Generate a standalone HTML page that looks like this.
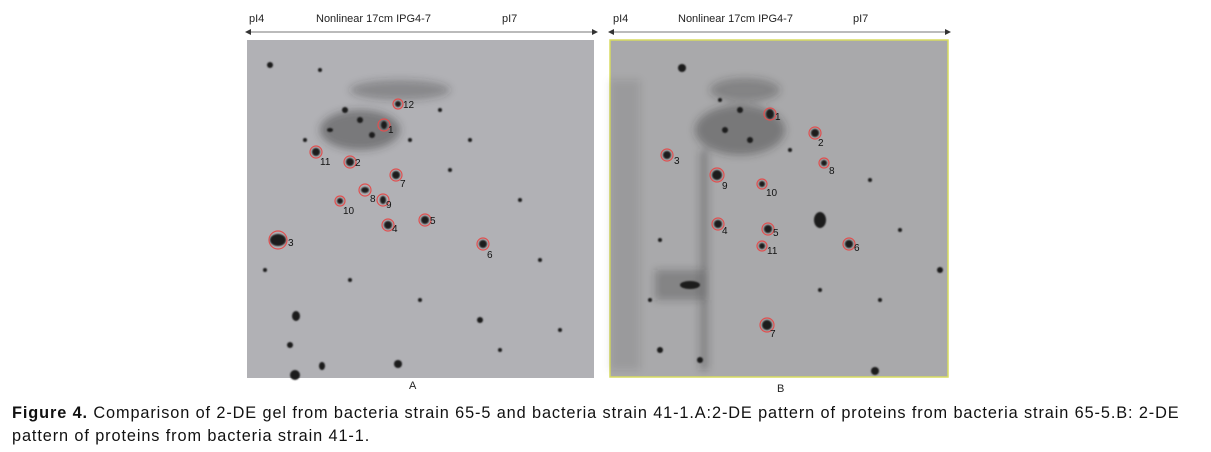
<!DOCTYPE html>
<html><head><meta charset="utf-8"><style>
body{margin:0;width:1211px;height:452px;background:#fff;overflow:hidden;position:relative;font-family:"Liberation Sans",sans-serif}
.t{position:absolute;font-size:11px;color:#222}
.cap{position:absolute;left:12px;top:402px;font-size:16.3px;line-height:23px;letter-spacing:0.9px;color:#111;width:1199px;white-space:nowrap}
</style></head><body>
<svg width="1211" height="400" style="position:absolute;left:0;top:0">
<defs>
<marker id="a" markerWidth="6" markerHeight="6" refX="3" refY="3" orient="auto-start-reverse"><path d="M0,0L6,3L0,6z" fill="#333"/></marker>
<filter id="b"><feGaussianBlur stdDeviation="0.8"/></filter>
<filter id="c"><feGaussianBlur stdDeviation="4"/></filter>
</defs>
<line x1="248" y1="32" x2="595" y2="32" stroke="#777" stroke-width="1" marker-start="url(#a)" marker-end="url(#a)"/>
<line x1="611" y1="32" x2="948" y2="32" stroke="#777" stroke-width="1" marker-start="url(#a)" marker-end="url(#a)"/>
<rect x="247" y="40" width="347" height="338" fill="#b1b1b5"/>
<rect x="610" y="40" width="338" height="337" fill="#a9a9ab" stroke="#d8dc60" stroke-width="1.5"/>
<g filter="url(#c)" fill="#333">
<ellipse cx="360" cy="130" rx="40" ry="20" opacity=".45"/><ellipse cx="400" cy="90" rx="50" ry="10" opacity=".3"/>
<ellipse cx="740" cy="130" rx="45" ry="25" opacity=".4"/><ellipse cx="745" cy="90" rx="35" ry="12" opacity=".3"/>
<rect x="700" y="150" width="8" height="220" opacity=".3"/><rect x="610" y="80" width="30" height="290" opacity=".12"/>
<rect x="655" y="270" width="50" height="30" opacity=".3"/>
</g>
<g filter="url(#b)" fill="#1a1a1a">
<ellipse cx="278" cy="240" rx="8" ry="6"/><ellipse cx="316" cy="152" rx="4" ry="4"/><ellipse cx="350" cy="162" rx="4" ry="4"/>
<ellipse cx="384" cy="125" rx="3" ry="4"/><ellipse cx="398" cy="104" rx="3" ry="3"/><ellipse cx="396" cy="175" rx="4" ry="4"/>
<ellipse cx="365" cy="190" rx="4" ry="3"/><ellipse cx="340" cy="201" rx="3" ry="3"/><ellipse cx="383" cy="200" rx="3" ry="4"/>
<ellipse cx="388" cy="225" rx="4" ry="4"/><ellipse cx="425" cy="220" rx="4" ry="4"/><ellipse cx="483" cy="244" rx="4" ry="4"/>
<ellipse cx="296" cy="316" rx="4" ry="5"/><ellipse cx="295" cy="375" rx="5" ry="5"/><ellipse cx="322" cy="366" rx="3" ry="4"/>
<ellipse cx="398" cy="364" rx="4" ry="4"/><ellipse cx="480" cy="320" rx="3" ry="3"/><ellipse cx="270" cy="65" rx="3" ry="3"/>
<ellipse cx="320" cy="70" rx="2" ry="2"/><ellipse cx="345" cy="110" rx="3" ry="3"/><ellipse cx="360" cy="120" rx="3" ry="3"/>
<ellipse cx="372" cy="135" rx="3" ry="3"/><ellipse cx="410" cy="140" rx="2" ry="2"/><ellipse cx="440" cy="110" rx="2" ry="2"/>
<ellipse cx="330" cy="130" rx="3" ry="2"/><ellipse cx="305" cy="140" rx="2" ry="2"/><ellipse cx="450" cy="170" rx="2" ry="2"/>
<ellipse cx="470" cy="140" rx="2" ry="2"/><ellipse cx="520" cy="200" rx="2" ry="2"/><ellipse cx="540" cy="260" rx="2" ry="2"/>
<ellipse cx="420" cy="300" rx="2" ry="2"/><ellipse cx="350" cy="280" rx="2" ry="2"/><ellipse cx="560" cy="330" rx="2" ry="2"/>
<ellipse cx="500" cy="350" rx="2" ry="2"/><ellipse cx="265" cy="270" rx="2" ry="2"/><ellipse cx="290" cy="345" rx="3" ry="3"/>
<ellipse cx="770" cy="114" rx="4" ry="5"/><ellipse cx="815" cy="133" rx="4" ry="4"/><ellipse cx="667" cy="155" rx="4" ry="4"/>
<ellipse cx="824" cy="163" rx="3" ry="3"/><ellipse cx="717" cy="175" rx="5" ry="5"/><ellipse cx="762" cy="184" rx="3" ry="3"/>
<ellipse cx="718" cy="224" rx="4" ry="4"/><ellipse cx="768" cy="229" rx="4" ry="4"/><ellipse cx="762" cy="246" rx="3" ry="3"/>
<ellipse cx="849" cy="244" rx="4" ry="4"/><ellipse cx="767" cy="325" rx="5" ry="5"/><ellipse cx="820" cy="220" rx="6" ry="8"/>
<ellipse cx="682" cy="68" rx="4" ry="4"/><ellipse cx="875" cy="371" rx="4" ry="4"/><ellipse cx="690" cy="285" rx="10" ry="4"/>
<ellipse cx="740" cy="110" rx="3" ry="3"/><ellipse cx="750" cy="140" rx="3" ry="3"/><ellipse cx="725" cy="130" rx="3" ry="3"/>
<ellipse cx="790" cy="150" rx="2" ry="2"/><ellipse cx="870" cy="180" rx="2" ry="2"/><ellipse cx="900" cy="230" rx="2" ry="2"/>
<ellipse cx="660" cy="240" rx="2" ry="2"/><ellipse cx="650" cy="300" rx="2" ry="2"/><ellipse cx="700" cy="360" rx="3" ry="3"/>
<ellipse cx="820" cy="290" rx="2" ry="2"/><ellipse cx="880" cy="300" rx="2" ry="2"/><ellipse cx="940" cy="270" rx="3" ry="3"/>
<ellipse cx="660" cy="350" rx="3" ry="3"/><ellipse cx="720" cy="100" rx="2" ry="2"/>
</g>
<g fill="none" stroke="#e05050" stroke-width="1.2">
<circle cx="278" cy="240" r="9"/><circle cx="316" cy="152" r="6"/><circle cx="350" cy="162" r="6"/><circle cx="384" cy="125" r="6"/>
<circle cx="398" cy="104" r="5"/><circle cx="396" cy="175" r="6"/><circle cx="365" cy="190" r="6"/><circle cx="340" cy="201" r="5"/>
<circle cx="383" cy="200" r="6"/><circle cx="388" cy="225" r="6"/><circle cx="425" cy="220" r="6"/><circle cx="483" cy="244" r="6"/>
<circle cx="770" cy="114" r="6"/><circle cx="815" cy="133" r="6"/><circle cx="667" cy="155" r="6"/><circle cx="824" cy="163" r="5"/>
<circle cx="717" cy="175" r="7"/><circle cx="762" cy="184" r="5"/><circle cx="718" cy="224" r="6"/><circle cx="768" cy="229" r="6"/>
<circle cx="762" cy="246" r="5"/><circle cx="849" cy="244" r="6"/><circle cx="767" cy="325" r="7"/>
</g>
<g font-size="10" fill="#111" font-family="Liberation Sans">
<text x="288" y="246">3</text><text x="320" y="165">11</text><text x="355" y="166">2</text><text x="388" y="133">1</text>
<text x="403" y="108">12</text><text x="400" y="187">7</text><text x="370" y="202">8</text><text x="343" y="214">10</text>
<text x="386" y="208">9</text><text x="392" y="232">4</text><text x="430" y="224">5</text><text x="487" y="258">6</text>
<text x="775" y="120">1</text><text x="818" y="146">2</text><text x="674" y="164">3</text><text x="829" y="174">8</text>
<text x="722" y="189">9</text><text x="766" y="196">10</text><text x="722" y="234">4</text><text x="773" y="236">5</text>
<text x="767" y="254">11</text><text x="854" y="251">6</text><text x="770" y="337">7</text>
</g>
</svg>
<div class="t" style="left:249px;top:13px">pI4</div>
<div class="t" style="left:316px;top:13px">Nonlinear 17cm IPG4-7</div>
<div class="t" style="left:502px;top:13px">pI7</div>
<div class="t" style="left:613px;top:13px">pI4</div>
<div class="t" style="left:678px;top:13px">Nonlinear 17cm IPG4-7</div>
<div class="t" style="left:853px;top:13px">pI7</div>
<div class="t" style="left:409px;top:380px">A</div>
<div class="t" style="left:777px;top:383px">B</div>
<div class="cap"><b>Figure 4.</b> Comparison of 2-DE gel from bacteria strain 65-5 and bacteria strain 41-1.A:2-DE pattern of proteins from bacteria strain 65-5.B: 2-DE<br>pattern of proteins from bacteria strain 41-1.</div>
</body></html>
